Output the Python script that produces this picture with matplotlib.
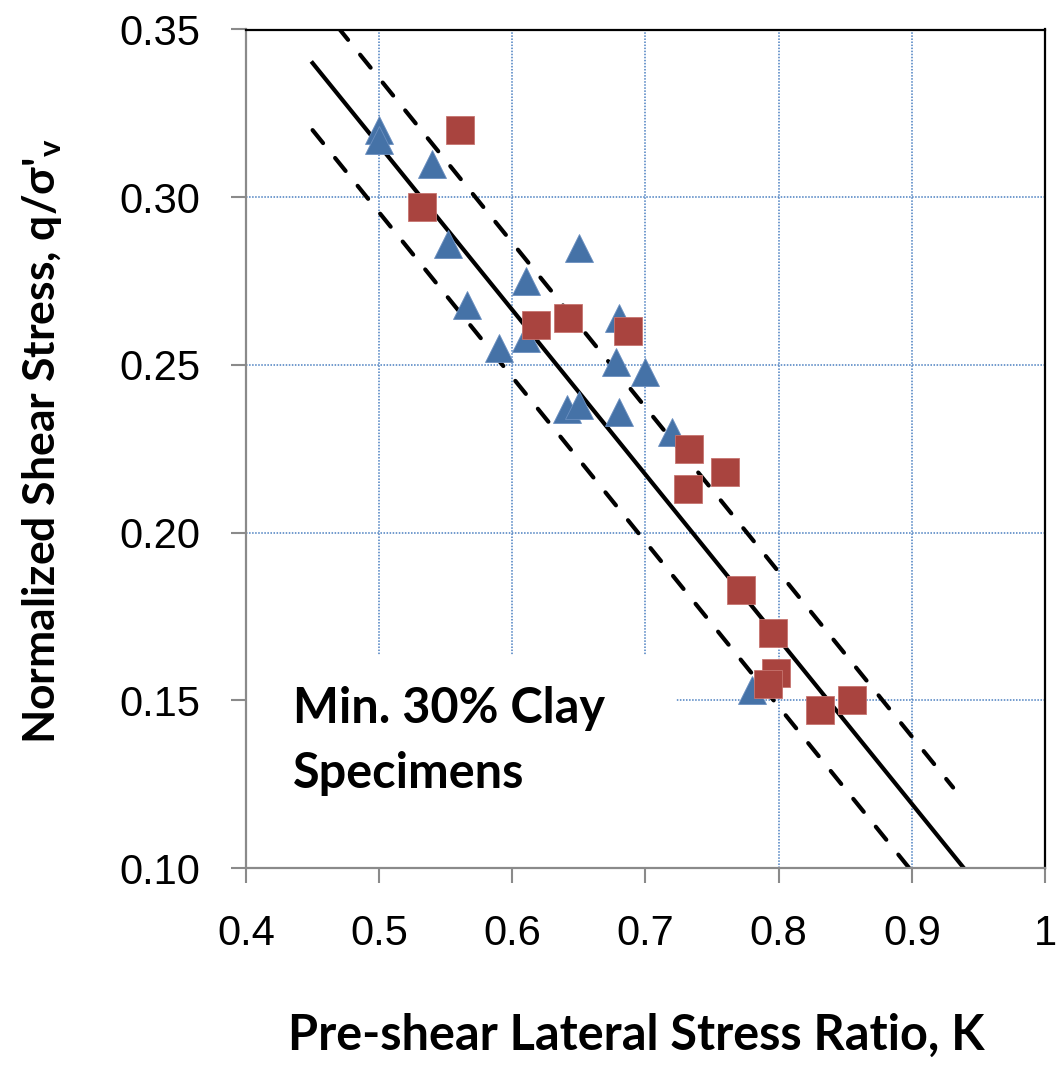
import matplotlib
matplotlib.use("Agg")
import matplotlib.pyplot as plt
from matplotlib.patches import Rectangle

plt.rcParams["font.family"] = ["Liberation Sans", "DejaVu Sans"]
plt.rcParams["mathtext.fontset"] = "custom"
plt.rcParams["mathtext.rm"] = "Lato:bold"
plt.rcParams["mathtext.it"] = "Lato:bold"

# Triangles (blue series)
tri_k = [0.500, 0.500, 0.540, 0.552, 0.566, 0.590, 0.610, 0.610, 0.641,
         0.650, 0.650, 0.678, 0.680, 0.680, 0.700, 0.720, 0.780]
tri_q = [0.320, 0.317, 0.310, 0.286, 0.268, 0.255, 0.275, 0.258, 0.237,
         0.238, 0.285, 0.251, 0.264, 0.236, 0.248, 0.230, 0.153]

# Squares (red series)
sq_k = [0.561, 0.532, 0.618, 0.642, 0.687, 0.733, 0.732, 0.760, 0.772,
        0.796, 0.798, 0.792, 0.831, 0.855]
sq_q = [0.320, 0.297, 0.262, 0.264, 0.260, 0.225, 0.213, 0.218, 0.183,
        0.170, 0.158, 0.155, 0.147, 0.150]

# Trend line and +/- bounds (end points)
fit_k = [0.450, 0.939]
fit_q = [0.340, 0.100]
upper_k = [0.450, 0.931]
upper_q = [0.360, 0.124]
lower_k = [0.450, 0.898]
lower_q = [0.320, 0.100]

x_ticks = [0.4, 0.5, 0.6, 0.7, 0.8, 0.9, 1.0]
x_labels = ["0.4", "0.5", "0.6", "0.7", "0.8", "0.9", "1"]
y_ticks = [0.10, 0.15, 0.20, 0.25, 0.30, 0.35]
y_labels = ["0.10", "0.15", "0.20", "0.25", "0.30", "0.35"]

W, H = 1060, 1065
fig = plt.figure(figsize=(W / 100, H / 100), dpi=100)
ax = fig.add_axes([246 / W, 1 - 868 / H, (1045 - 246) / W, (868 - 29.5) / H])

ax.set_xlim(0.4, 1.0)
ax.set_ylim(0.10, 0.35)
ax.set_xticks(x_ticks)
ax.set_xticklabels(x_labels)
ax.set_yticks(y_ticks)
ax.set_yticklabels(y_labels)
ax.tick_params(direction="out", length=11, width=1.5, color="#8a8a8a",
               labelsize=30, pad=22)

ax.set_axisbelow(True)
ax.grid(True, color="#4a7fc0", linestyle=(0, (1, 1)), linewidth=1.1)

for side in ["left", "bottom"]:
    ax.spines[side].set_color("#8a8a8a")
    ax.spines[side].set_linewidth(1.6)
for side in ["top", "right"]:
    ax.spines[side].set_color("black")
    ax.spines[side].set_linewidth(1.6)

# white background of the annotation, hides the grid under it
ax.add_patch(Rectangle((0.4, 0.10), 0.3227, 0.0635, facecolor="white",
                       edgecolor="none", zorder=1))

ax.plot(fit_k, fit_q, color="black", linewidth=3.0, zorder=2)
dash_kw = dict(color="black", linewidth=3.0, dashes=(4.0, 4.6),
               dash_capstyle="round", zorder=2)
ax.plot(upper_k, upper_q, **dash_kw)
ax.plot(lower_k, lower_q, **dash_kw)

ax.plot(tri_k, tri_q, linestyle="none", marker="^", markersize=20,
        color="#4572a7", markeredgecolor="#6b8fc0", markeredgewidth=0.6,
        zorder=3)
ax.plot(sq_k, sq_q, linestyle="none", marker="s", markersize=19.5,
        color="#a9443f", markeredgecolor="#c77470", markeredgewidth=0.6,
        zorder=3)

bold_font = ["Lato", "DejaVu Sans"]
text_kw = dict(fontsize=35, fontweight="bold", family=bold_font, zorder=4)
ax.text(0.4355, 0.1432, "Min. 30% Clay", **text_kw)
ax.text(0.4355, 0.1239, "Specimens", **text_kw)

fig.text(636 / W, 1 - 1050 / H, "Pre-shear Lateral Stress Ratio, K",
         ha="center", va="baseline", fontsize=35, fontweight="bold",
         family=bold_font)
fig.text(42 / W, 1 - 441 / H, r"Normalized Shear Stress, q/σ'$_{\mathrm{v}}$",
         ha="center", va="center", rotation=90, fontsize=32,
         fontweight="bold", family=bold_font)

fig.savefig("out.png", dpi=100)
